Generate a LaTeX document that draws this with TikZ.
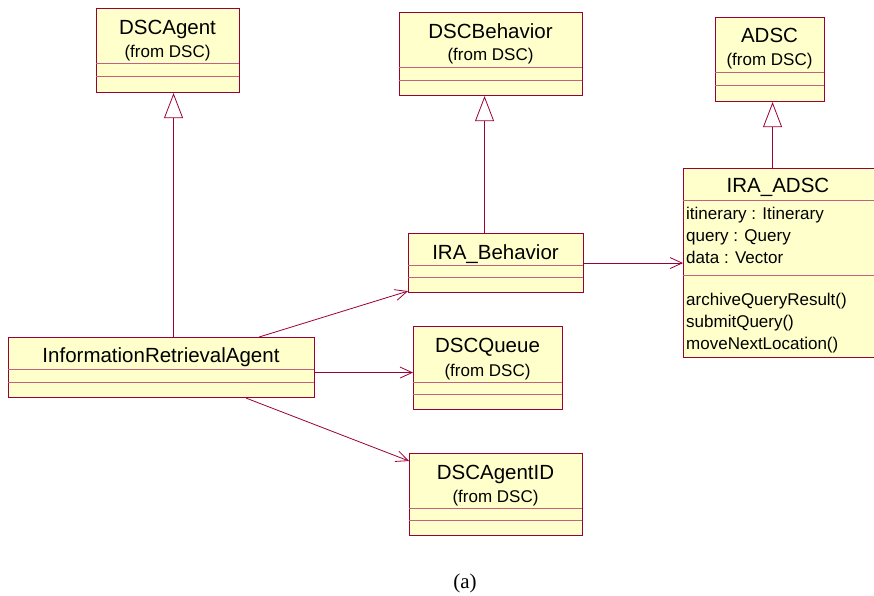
\documentclass[tikz,border=0pt]{standalone}
\usepackage{fontspec}
\setmainfont{Liberation Serif}
\setsansfont{Liberation Sans}
\usetikzlibrary{arrows.meta}
\definecolor{umlred}{RGB}{153,0,51}
\definecolor{umlfill}{RGB}{255,255,204}
\definecolor{umlsep}{RGB}{196,96,128}
\begin{document}
\begin{tikzpicture}
[x=1pt,y=-1pt,
 class/.style={rectangle,draw=umlred,fill=umlfill,line width=1.1pt,inner sep=0pt,anchor=north west},
 title/.style={font=\sffamily\fontsize{20.5}{24}\selectfont,anchor=base,inner sep=0pt},
 from/.style={font=\sffamily\fontsize{17}{20}\selectfont,anchor=base,inner sep=0pt},
 member/.style={font=\sffamily\fontsize{17}{22}\selectfont,anchor=base west,align=left,inner sep=0pt},
 sep/.style={umlsep,line width=0.9pt},
 inherit/.style={umlred,line width=0.8pt,-{Triangle[open,length=25pt,width=19pt]}},
 assoc/.style={umlred,line width=0.8pt,-{Straight Barb[length=12pt,width=11pt]}}]
\useasboundingbox (0,0) rectangle (874,596);
\clip (0,0) rectangle (874,596);

% classes
\node[class,minimum width=143pt,minimum height=84pt] (dscagent) at (96,8) {};
\draw[sep] (96,63) -- (239,63) (96,76) -- (239,76);
\node[title] at (167.5,35) {DSCAgent};
\node[from] at (167.5,58) {(from DSC)};

\node[class,minimum width=183pt,minimum height=83pt] (dscbehavior) at (399,12) {};
\draw[sep] (399,67) -- (582,67) (399,80) -- (582,80);
\node[title] at (490.5,39) {DSCBehavior};
\node[from] at (490.5,61) {(from DSC)};

\node[class,minimum width=109pt,minimum height=84pt] (adsc) at (715,17) {};
\draw[sep] (715,72) -- (824,72) (715,85) -- (824,85);
\node[title] at (769.5,43) {ADSC};
\node[from] at (769.5,66) {(from DSC)};

\node[class,minimum width=200pt,minimum height=189pt] (iraadsc) at (683,168) {};
\draw[sep] (683,200) -- (883,200) (683,275) -- (883,275);
\node[title] at (778,192) {IRA\_ADSC};
% last baseline of each block
\node[member] at (686,263) {itinerary : Itinerary\\query : Query\\data : Vector};
\node[member] at (686,349) {archiveQueryResult()\\submitQuery()\\moveNextLocation()};

\node[class,minimum width=175pt,minimum height=59pt] (irabehavior) at (408,233) {};
\draw[sep] (408,265) -- (583,265) (408,277) -- (583,277);
\node[title] at (495.5,259) {IRA\_Behavior};

\node[class,minimum width=306pt,minimum height=60pt] (ira) at (8,337) {};
\draw[sep] (8,369) -- (314,369) (8,382) -- (314,382);
\node[title] at (161,362) {InformationRetrievalAgent};

\node[class,minimum width=149pt,minimum height=83pt] (dscqueue) at (413,326) {};
\draw[sep] (413,382) -- (562,382) (413,394) -- (562,394);
\node[title] at (487.5,352) {DSCQueue};
\node[from] at (487.5,376) {(from DSC)};

\node[class,minimum width=173pt,minimum height=82pt] (dscagentid) at (409,453) {};
\draw[sep] (409,508) -- (582,508) (409,520) -- (582,520);
\node[title] at (495.5,479) {DSCAgentID};
\node[from] at (495.5,502) {(from DSC)};

% generalisations
\draw[inherit] ([xshift=12pt]ira.north) -- ([xshift=12pt]ira.north |- dscagent.south);
\draw[inherit] ([xshift=-11.5pt]irabehavior.north) -- ([xshift=-11.5pt]irabehavior.north |- dscbehavior.south);
\draw[inherit] ([xshift=2.5pt]adsc.south |- iraadsc.north) -- ([xshift=2.5pt]adsc.south);

% associations
\draw[assoc] ([xshift=-56pt]ira.north east) -- ([yshift=2pt]irabehavior.south west);
\draw[assoc] ([yshift=-5pt]ira.east) -- ([yshift=-5pt]ira.east -| dscqueue.west);
\draw[assoc] ([xshift=-69pt]ira.south east) -- ([yshift=-8pt]dscagentid.north west);
\draw[assoc] (irabehavior.east) -- (irabehavior.east -| iraadsc.west);

\node[font=\fontsize{21}{24}\selectfont,anchor=base,inner sep=0pt] (caption) at (465,588) {(a)};
\end{tikzpicture}
\end{document}
